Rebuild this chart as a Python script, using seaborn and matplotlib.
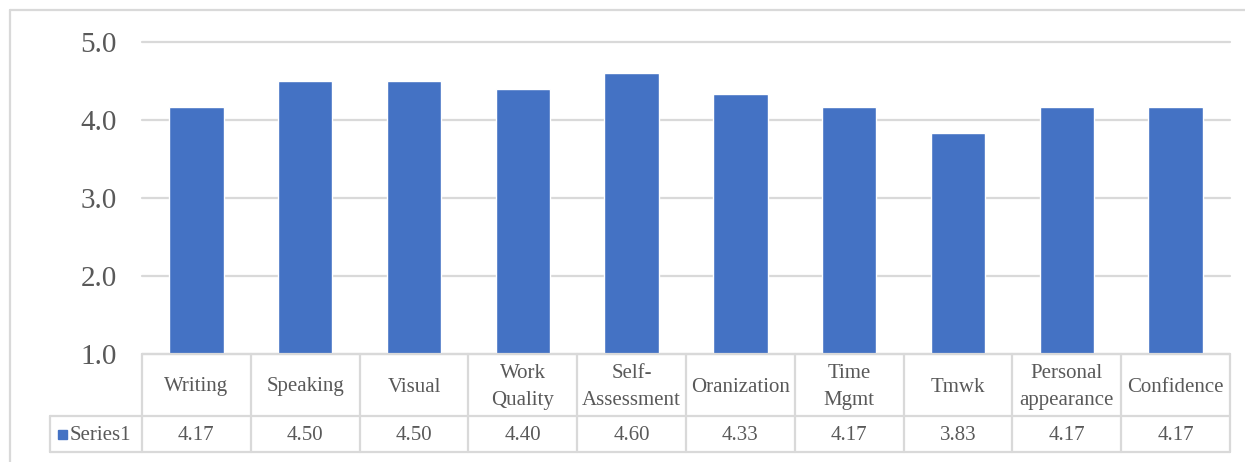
import matplotlib
matplotlib.use("Agg")
import matplotlib.pyplot as plt
from matplotlib.lines import Line2D
from matplotlib.patches import Rectangle
import seaborn as sns
import pandas as pd

categories = ["Writing", "Speaking", "Visual", "Work\nQuality", "Self-\nAssessment",
              "Oranization", "Time\nMgmt", "Tmwk", "Personal\nappearance", "Confidence"]
values = [4.17, 4.50, 4.50, 4.40, 4.60, 4.33, 4.17, 3.83, 4.17, 4.17]
series_name = "Series1"
y_ticks = [1.0, 2.0, 3.0, 4.0, 5.0]

W, H = 1245, 462
BAR = "#4472C4"
GRID = "#D9D9D9"
TXT = "#595959"

sns.set_theme(style="white")
plt.rcParams["font.family"] = ["Liberation Serif", "DejaVu Serif"]

fig = plt.figure(figsize=(W / 100, H / 100), dpi=100)


def fx(px):
    return px / W


def fy(py):
    return 1 - py / H


# plot area
left, right, top, bottom = 142, 1230, 42, 354
ax = fig.add_axes([fx(left), fy(bottom), fx(right) - fx(left), fy(top) - fy(bottom)])

df = pd.DataFrame({"cat": categories, "val": values})
sns.barplot(data=df, x="cat", y="val", color=BAR, saturation=1, width=0.5, ax=ax, zorder=3)

ax.set_ylim(1, 5)
ax.set_xlim(-0.5, len(categories) - 0.5)
ax.set_yticks(y_ticks)
ax.set_yticklabels([f"{t:.1f}" for t in y_ticks], fontsize=21, color=TXT)
ax.tick_params(axis="y", length=0, pad=18)
ax.set_xticks([])
ax.set_xlabel("")
ax.set_ylabel("")
for t in y_ticks:
    ax.axhline(t, color=GRID, lw=1.6, zorder=1, clip_on=False)
for s in ax.spines.values():
    s.set_visible(False)

# data table below the plot area
row1_top, row1_bot, row2_bot = 354, 416, 452
label_left = 50
ncol = len(categories)
col_w = (right - left) / ncol

lines = []
# horizontal rules
lines.append(((left, right), (row1_top, row1_top)))
lines.append(((label_left, right), (row1_bot, row1_bot)))
lines.append(((label_left, right), (row2_bot, row2_bot)))
# vertical rules
for i in range(ncol + 1):
    x = left + i * col_w
    lines.append(((x, x), (row1_top, row2_bot)))
lines.append(((label_left, label_left), (row1_bot, row2_bot)))
for (xs, ys) in lines:
    fig.add_artist(Line2D([fx(x) for x in xs], [fy(y) for y in ys],
                          color=GRID, lw=1.6, transform=fig.transFigure))

for i, (c, v) in enumerate(zip(categories, values)):
    cx = left + (i + 0.5) * col_w
    fig.text(fx(cx), fy((row1_top + row1_bot) / 2 + 2), c, ha="center", va="center",
             fontsize=15, color=TXT, linespacing=1.55)
    fig.text(fx(cx), fy((row1_bot + row2_bot) / 2 + 2), f"{v:.2f}", ha="center", va="center",
             fontsize=15, color=TXT)

# legend key
fig.add_artist(Rectangle((fx(58), fy(439)), fx(9), fy(430) - fy(439),
                         color=BAR, transform=fig.transFigure))
fig.text(fx(70), fy((row1_bot + row2_bot) / 2 + 2), series_name, ha="left", va="center",
         fontsize=15, color=TXT)

# chart border
fig.add_artist(Line2D([fx(10), fx(10)], [fy(10), fy(H)], color=GRID, lw=1.6,
                      transform=fig.transFigure))
fig.add_artist(Line2D([fx(10), fx(W)], [fy(10), fy(10)], color=GRID, lw=1.6,
                      transform=fig.transFigure))

fig.savefig("out.png", dpi=100, facecolor="white")
